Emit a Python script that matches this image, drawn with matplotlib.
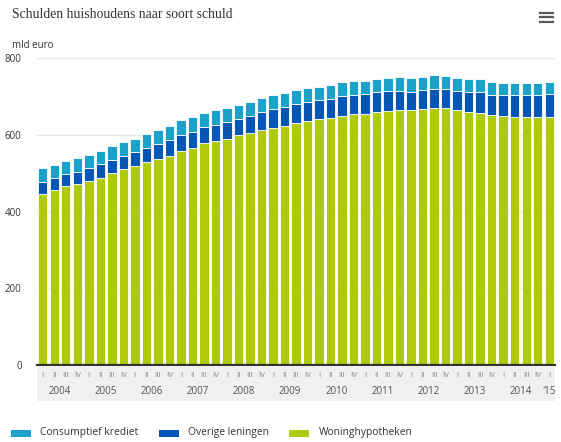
# household debt by type of debt, stacked quarterly bars 2004 Q1 - 2015 Q1

import numpy as np
import matplotlib
matplotlib.use("Agg")
import matplotlib.pyplot as plt
from matplotlib.patches import Rectangle
from matplotlib.lines import Line2D

# quarter labels under each bar
QUARTERS = ["I", "II", "III", "IV"] * 11 + ["I"]
YEARS = ["2004", "2005", "2006", "2007", "2008", "2009", "2010",
         "2011", "2012", "2013", "2014", "'15"]

# mld euro
woninghypotheken = [447, 457, 466, 473, 480, 487, 500, 510, 519, 529, 537, 546,
                    558, 565, 578, 584, 590, 599, 604, 612, 619, 624, 631, 636,
                    641, 645, 650, 654, 656, 659, 663, 664, 664, 667, 670, 670,
                    664, 661, 658, 652, 650, 648, 648, 648, 648]
overige_leningen = [31, 32, 31, 31, 33, 37, 36, 36, 36, 38, 40, 42,
                    42, 44, 42, 41, 43, 42, 46, 49, 48, 50, 49, 49,
                    49, 50, 52, 51, 50, 52, 52, 51, 49, 50, 49, 49,
                    52, 52, 55, 52, 53, 55, 55, 55, 60]
consumptief_krediet = [35, 33, 35, 35, 35, 34, 34, 35, 35, 35, 37, 36,
                       38, 39, 38, 39, 37, 37, 37, 36, 36, 36, 37, 38,
                       34, 35, 36, 37, 36, 35, 34, 36, 35, 34, 37, 35,
                       33, 32, 32, 33, 32, 32, 32, 32, 31]

SERIES = ["Consumptief krediet", "Overige leningen", "Woninghypotheken"]
COLOURS = {"Consumptief krediet": "#1ba2cb",
           "Overige leningen": "#0657b5",
           "Woninghypotheken": "#afca0b"}

W, H = 561, 442
SANS = ["Open Sans", "DejaVu Sans"]

fig = plt.figure(figsize=(W / 100, H / 100), dpi=100)

def fx(px):
    return px / W

def fy(py):
    return 1 - py / H

# main plot area
ax = fig.add_axes([fx(37), fy(365), fx(555) - fx(37), fy(58.3) - fy(365)])
x = np.arange(len(woninghypotheken))
g = np.array(woninghypotheken)
o = np.array(overige_leningen)
c = np.array(consumptief_krediet)

bw = 0.82
ax.bar(x, g, width=bw, color=COLOURS["Woninghypotheken"], edgecolor="white", linewidth=0.6)
ax.bar(x, o, width=bw, bottom=g, color=COLOURS["Overige leningen"], edgecolor="white", linewidth=0.6)
ax.bar(x, c, width=bw, bottom=g + o, color=COLOURS["Consumptief krediet"], edgecolor="white", linewidth=0.6)

ax.set_xlim(-0.5, len(x) - 0.5)
ax.set_ylim(0, 800)
ax.set_yticks([0, 200, 400, 600, 800])
ax.set_yticklabels(["0", "200", "400", "600", "800"], family=SANS, fontsize=7, color="#333333")
ax.tick_params(axis="y", length=0, pad=11)
ax.set_xticks([])
ax.yaxis.grid(True, color="#e8e8e8", linewidth=1)
ax.set_axisbelow(True)
for s in ("top", "right", "left"):
    ax.spines[s].set_visible(False)
ax.spines["bottom"].set_color("#333333")
ax.spines["bottom"].set_linewidth(1.6)
ax.spines["bottom"].set_zorder(5)

# grey band with quarter / year labels
band = fig.add_axes([fx(37), fy(401), fx(555) - fx(37), fy(366) - fy(401)])
band.set_facecolor("#f0f0f0")
band.set_xlim(-0.5, len(x) - 0.5)
band.set_ylim(0, 1)
band.set_xticks([])
band.set_yticks([])
for s in band.spines.values():
    s.set_visible(False)
for i, q in enumerate(QUARTERS):
    band.text(i, 0.74, q, ha="center", va="center", family=SANS,
              fontsize=5.8, color="#888888")
for k, yr in enumerate(YEARS):
    pos = 4 * k + 1.5 if k < len(YEARS) - 1 else 4 * k
    band.text(pos, 0.27, yr, ha="center", va="center", family=SANS,
              fontsize=7, color="#555555")

# titles
fig.text(fx(12), fy(15), "Schulden huishoudens naar soort schuld",
         family=["Liberation Serif", "DejaVu Serif"], fontsize=9.8,
         color="#333333", va="center", ha="left")
fig.text(fx(12), fy(45), "mld euro", family=SANS, fontsize=7,
         color="#333333", va="center", ha="left")

# hamburger menu icon
for yy in (13, 17.3, 21.6):
    fig.add_artist(Line2D([fx(540), fx(553)], [fy(yy), fy(yy)],
                          color="#5a5a5a", linewidth=1.6))

# legend, placed by hand
legend_pos = [(11, 40), (159, 188), (289, 319)]
for name, (bx, tx) in zip(SERIES, legend_pos):
    fig.add_artist(Rectangle((fx(bx), fy(436.5)), fx(20), fy(430) - fy(436.5),
                             facecolor=COLOURS[name], edgecolor="none",
                             transform=fig.transFigure))
    fig.text(fx(tx), fy(433), name, family=SANS, fontsize=7.4,
             color="#333333", va="center", ha="left")

fig.savefig("out.png", dpi=100)
